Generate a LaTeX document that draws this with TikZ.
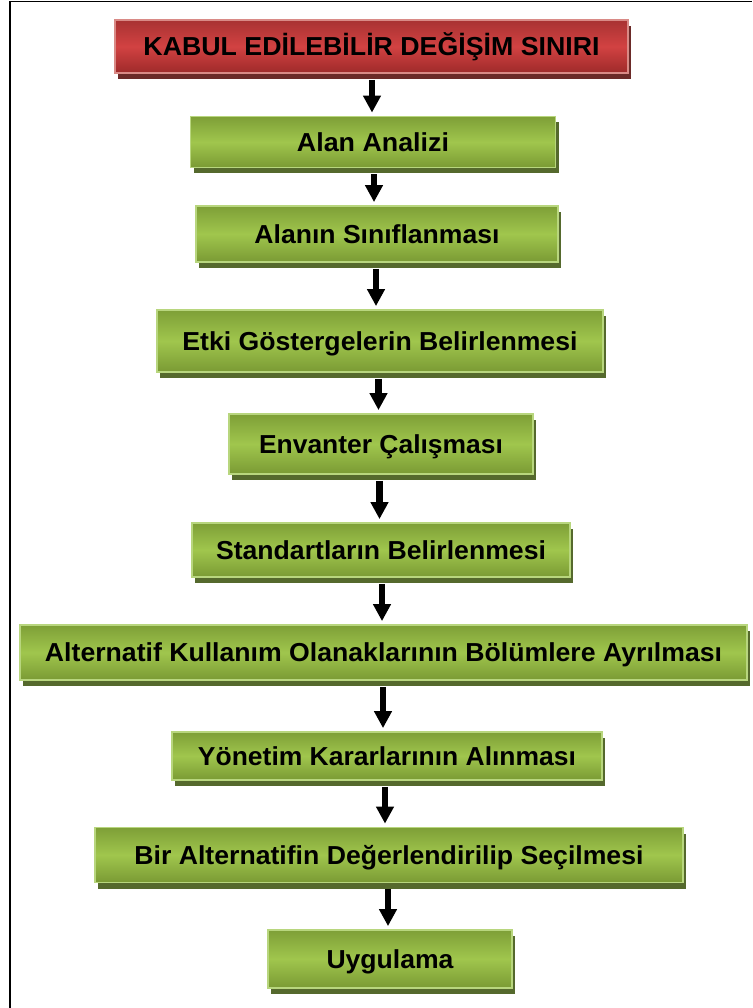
\documentclass[tikz,border=0pt]{standalone}
\usepackage{fontspec}
\setmainfont{Liberation Sans}
\usetikzlibrary{arrows.meta,shadows,calc}
\definecolor{gtop}{HTML}{7E9F37}
\definecolor{gmid}{HTML}{A0C64D}
\definecolor{gbot}{HTML}{7A9A34}
\definecolor{gborder}{HTML}{B8D67E}
\definecolor{gshadow}{HTML}{55692D}
\definecolor{rtop}{HTML}{A83232}
\definecolor{rmid}{HTML}{D24242}
\definecolor{rbot}{HTML}{9E2A2A}
\definecolor{rborder}{HTML}{D98A86}
\definecolor{rshadow}{HTML}{6B2A28}
\newcommand\tx[2]{\resizebox{#1pt}{\height}{#2}}
\begin{document}
\begin{tikzpicture}[x=1pt,y=-1pt,
  basebox/.style={rectangle, inner sep=0pt, line width=1.8pt,
    font=\fontsize{26}{30}\selectfont\bfseries, text height=18.6pt, text depth=0pt},
  gbox/.style={basebox, draw=gborder, top color=gtop, bottom color=gbot, middle color=gmid,
    drop shadow={shadow xshift=3pt, shadow yshift=-6pt, fill=gshadow, opacity=1}},
  rbox/.style={basebox, draw=rborder, top color=rtop, bottom color=rbot, middle color=rmid,
    drop shadow={shadow xshift=3pt, shadow yshift=-6pt, fill=rshadow, opacity=1}},
  arr/.style={line width=6.5pt, -{Triangle[width=17pt,length=17pt]}}]
\useasboundingbox (0,0) rectangle (752,1008);
\fill[white] (0,0) rectangle (752,1008);
\draw[line width=1.5pt] (10,1008) -- (10,1.5) -- (752,1.5);

\node[rbox, minimum width=513pt, minimum height=53pt] (n0) at (371.5,46.5) {\tx{456}{KABUL EDİLEBİLİR DEĞİŞİM SINIRI}};
\node[gbox, minimum width=365pt, minimum height=51pt] (n1) at (373,142) {\tx{152}{Alan Analizi}};
\node[gbox, minimum width=362pt, minimum height=56pt] (n2) at (377,234) {\tx{245}{Alanın Sınıflanması}};
\node[gbox, minimum width=446pt, minimum height=62pt] (n3) at (380,341) {\tx{395}{Etki Göstergelerin Belirlenmesi}};
\node[gbox, minimum width=304pt, minimum height=60pt] (n4) at (381,444) {\tx{244}{Envanter Çalışması}};
\node[gbox, minimum width=378pt, minimum height=54pt] (n5) at (381,550) {\tx{330}{Standartların Belirlenmesi}};
\node[gbox, minimum width=727pt, minimum height=55pt] (n6) at (383.5,652.5) {\tx{677}{Alternatif Kullanım Olanaklarının Bölümlere Ayrılması}};
\node[gbox, minimum width=430pt, minimum height=48pt] (n7) at (387,756) {\tx{378}{Yönetim Kararlarının Alınması}};
\node[gbox, minimum width=588pt, minimum height=55pt] (n8) at (389,855) {\tx{509}{Bir Alternatifin Değerlendirilip Seçilmesi}};
\node[gbox, minimum width=244pt, minimum height=58pt] (n9) at (390,959) {\tx{127}{Uygulama}};

\coordinate (c1) at (372,0);
\coordinate (c2) at (374,0);
\coordinate (c3) at (376,0);
\coordinate (c4) at (378.5,0);
\coordinate (c5) at (379.5,0);
\coordinate (c6) at (382,0);
\coordinate (c7) at (383,0);
\coordinate (c8) at (385,0);
\coordinate (c9) at (388,0);

\draw[arr] ($(n0.south -| c1)+(0,6)$) -- ($(n1.north -| c1)+(0,-3)$);
\draw[arr] ($(n1.south -| c2)+(0,6)$) -- ($(n2.north -| c2)+(0,-3)$);
\draw[arr] ($(n2.south -| c3)+(0,6)$) -- ($(n3.north -| c3)+(0,-3)$);
\draw[arr] ($(n3.south -| c4)+(0,6)$) -- ($(n4.north -| c4)+(0,-3)$);
\draw[arr] ($(n4.south -| c5)+(0,6)$) -- ($(n5.north -| c5)+(0,-3)$);
\draw[arr] ($(n5.south -| c6)+(0,6)$) -- ($(n6.north -| c6)+(0,-3)$);
\draw[arr] ($(n6.south -| c7)+(0,6)$) -- ($(n7.north -| c7)+(0,-3)$);
\draw[arr] ($(n7.south -| c8)+(0,6)$) -- ($(n8.north -| c8)+(0,-3)$);
\draw[arr] ($(n8.south -| c9)+(0,6)$) -- ($(n9.north -| c9)+(0,-3)$);
\end{tikzpicture}
\end{document}
